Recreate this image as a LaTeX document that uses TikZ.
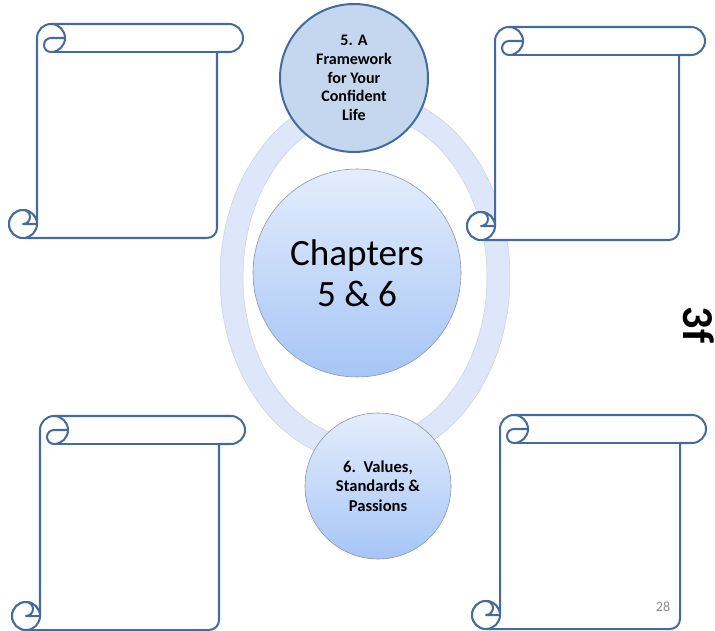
\documentclass[tikz,border=0pt]{standalone}
\usepackage{fontspec}
\setmainfont{Carlito}
\usetikzlibrary{positioning}

\definecolor{scrollblue}{RGB}{68,106,158}
\definecolor{ringblue}{RGB}{221,231,249}
\definecolor{ringedge}{RGB}{200,208,222}
\definecolor{topfill}{RGB}{197,215,238}
\definecolor{lightcirc}{RGB}{228,237,252}
\definecolor{deepcirc}{RGB}{166,197,246}
\definecolor{circedge}{RGB}{140,150,166}
\definecolor{pagegray}{RGB}{140,140,140}

% scroll: left x, top y, right end of bar, bottom y
\newcommand{\scrollbox}[4]{%
  \filldraw[scroll] (#1,{#2+14}) arc (180:270:14) -- ({#3-14},#2) arc (270:450:14)
    -- ({#3-26},{#2+28}) -- ({#3-26},{#4-10}) arc (0:90:10)
    -- ({#1-14},#4) arc (90:360:14) -- cycle;
  \draw[scroll] ({#3-14},{#2+28}) -- ({#1+14},{#2+28});
  \draw[scroll] ({#1+14},#2) arc (270:450:14) arc (90:270:7) -- ({#1+28},{#2+14});
  \draw[scroll] ({#1-14},{#4-14}) circle (14);
  \draw[scroll] ({#1-14},{#4-28}) arc (270:450:7) -- (#1,{#4-14});
}

\begin{document}
\begin{tikzpicture}[x=0.035cm, y=-0.035cm]
    % Styles
    \tikzstyle{scroll} = [draw=scrollblue, fill=white, line width=2pt, line join=round]
    \tikzstyle{ring} = [fill=ringblue, draw=ringedge, line width=0.5pt, even odd rule]
    \tikzstyle{chapcircle} = [circle, draw=circedge, line width=0.6pt, top color=lightcirc, bottom color=deepcirc, minimum size=7.28cm, inner sep=0, align=center, font=\fontsize{37}{41}\selectfont]
    \tikzstyle{topcircle} = [circle, draw=scrollblue, line width=2pt, fill=topfill, minimum size=5.18cm, inner sep=0, align=center, font=\bfseries\fontsize{16}{18.5}\selectfont]
    \tikzstyle{botcircle} = [circle, draw=circedge, line width=0.6pt, top color=lightcirc, bottom color=deepcirc, minimum size=5.11cm, inner sep=0, align=center, font=\bfseries\fontsize{16.5}{19.5}\selectfont]

    \useasboundingbox (0,0) rectangle (715,631);

    % Ring behind the circles
    \filldraw[ring] (365,277) ellipse [x radius=145, y radius=185]
                    (365,277) ellipse [x radius=122, y radius=162];

    % Scrolls
    \scrollbox{37}{24}{243}{238}
    \scrollbox{495}{27}{705}{240}
    \scrollbox{40}{416}{245}{630}
    \scrollbox{500}{415}{706}{629}

    % Nodes
    \node[chapcircle] (chapters) at (357,273) {Chapters\\5 \& 6};
    \node[topcircle] (framework) at (354,78) {5. A\\Framework\\for Your\\Confident\\Life};
    \node[botcircle] (values) at (378,486) {6.\ \ Values,\\Standards \&\\Passions};

    % Side tag and page number
    \node[rotate=-90, anchor=base, font=\bfseries\fontsize{44}{44}\selectfont] (tag) at (683,325) {3f};
    \node[text=pagegray, font=\fontsize{14}{14}\selectfont] (pagenum) at (663,607) {28};
\end{tikzpicture}
\end{document}
